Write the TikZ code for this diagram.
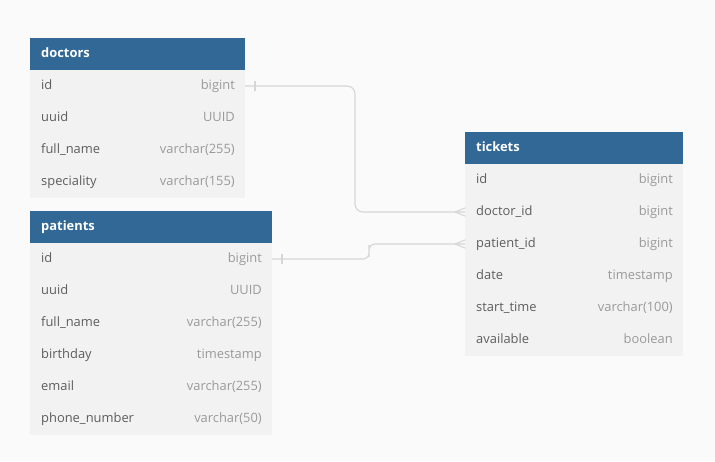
\documentclass[tikz,border=0pt]{standalone}
\usepackage{fontspec}
\setmainfont{Open Sans}
\usetikzlibrary{positioning}

\definecolor{bggray}{HTML}{FAFAFA}
\definecolor{hdrblue}{HTML}{316896}
\definecolor{rowgray}{HTML}{F2F2F2}
\definecolor{namegray}{HTML}{5E5E5E}
\definecolor{typegray}{HTML}{9A9A9A}
\definecolor{linegray}{HTML}{D6D6D6}

\newcommand{\erfont}{\fontsize{12.9}{15}\selectfont}

\begin{document}
\begin{tikzpicture}[x=1pt, y=-1pt,
  header/.style={rectangle, fill=hdrblue, anchor=north west, minimum height=32pt, inner sep=0pt, outer sep=0pt},
  field/.style={rectangle, fill=rowgray, anchor=north west, minimum height=32pt, inner sep=0pt, outer sep=0pt},
  title/.style={anchor=west, text=white, font=\erfont\bfseries, inner sep=0pt, text height=9.5pt, text depth=2.5pt},
  fname/.style={anchor=west, text=namegray, font=\erfont, inner sep=0pt, text height=9.5pt, text depth=2.5pt},
  ftype/.style={anchor=east, text=typegray, font=\erfont, inner sep=0pt, text height=9.5pt, text depth=2.5pt},
  conn/.style={draw=linegray, line width=1.1pt}
]

% Canvas
\useasboundingbox[fill=bggray] (0,0) rectangle (715,461);

% doctors
\node[header, minimum width=215pt] (doctors) at (30,38) {};
\node[title] (doctors-title) at ([xshift=11pt]doctors.west) {doctors};
\foreach \fn/\ft [count=\i] in {id/bigint, uuid/UUID, full\_name/varchar(255), speciality/varchar(155)} {
  \node[field, minimum width=215pt] (doctors-\i) at (30,{38+32*\i}) {};
  \node[fname] (doctors-\i-name) at ([xshift=11pt]doctors-\i.west) {\fn};
  \node[ftype] (doctors-\i-type) at ([xshift=-10pt]doctors-\i.east) {\ft};
}

% patients
\node[header, minimum width=242pt] (patients) at (30,211) {};
\node[title] (patients-title) at ([xshift=11pt]patients.west) {patients};
\foreach \fn/\ft [count=\i] in {id/bigint, uuid/UUID, full\_name/varchar(255), birthday/timestamp, email/varchar(255), phone\_number/varchar(50)} {
  \node[field, minimum width=242pt] (patients-\i) at (30,{211+32*\i}) {};
  \node[fname] (patients-\i-name) at ([xshift=11pt]patients-\i.west) {\fn};
  \node[ftype] (patients-\i-type) at ([xshift=-10pt]patients-\i.east) {\ft};
}

% tickets
\node[header, minimum width=218pt] (tickets) at (465,132) {};
\node[title] (tickets-title) at ([xshift=11pt]tickets.west) {tickets};
\foreach \fn/\ft [count=\i] in {id/bigint, doctor\_id/bigint, patient\_id/bigint, date/timestamp, start\_time/varchar(100), available/boolean} {
  \node[field, minimum width=218pt] (tickets-\i) at (465,{132+32*\i}) {};
  \node[fname] (tickets-\i-name) at ([xshift=11pt]tickets-\i.west) {\fn};
  \node[ftype] (tickets-\i-type) at ([xshift=-10pt]tickets-\i.east) {\ft};
}

% Relations
\coordinate (bend1) at (355,150);
\coordinate (bend2) at (369,251);
\draw[conn, rounded corners=8pt] (doctors-1.east) -| (bend1) |- (tickets-2.west);
\draw[conn, rounded corners=6pt] (patients-1.east) -| (bend2) |- (tickets-3.west);

% One ends
\draw[conn] ([xshift=10pt,yshift=5pt]doctors-1.east) -- ([xshift=10pt,yshift=-5pt]doctors-1.east);
\draw[conn] ([xshift=10pt,yshift=5pt]patients-1.east) -- ([xshift=10pt,yshift=-5pt]patients-1.east);

% Many ends
\draw[conn] ([xshift=-10pt]tickets-2.west) -- ([yshift=4pt]tickets-2.west)
            ([xshift=-10pt]tickets-2.west) -- ([yshift=-4pt]tickets-2.west);
\draw[conn] ([xshift=-10pt]tickets-3.west) -- ([yshift=4pt]tickets-3.west)
            ([xshift=-10pt]tickets-3.west) -- ([yshift=-4pt]tickets-3.west);

\end{tikzpicture}
\end{document}
